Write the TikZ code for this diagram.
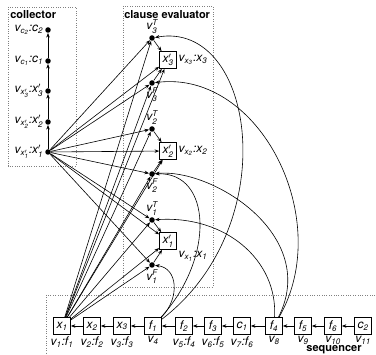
\documentclass[tikz,border=0pt]{standalone}
\usepackage{amsmath}
\usepackage{fontspec}
\setmainfont{TeX Gyre Heros}
\usetikzlibrary{arrows.meta}
\newcommand{\ix}[2]{$\textit{#1}_{\textit{#2}}$}
\newcommand{\xp}[1]{$\textit{x}'_{\textit{#1}}$}
\newcommand{\vx}[1]{$\textit{v}_{\textit{x}_{\textit{#1}}}$}
\newcommand{\vxp}[1]{$\textit{v}_{\textit{x}'_{\textit{#1}}}$}
\newcommand{\vc}[1]{$\textit{v}_{\textit{c}_{\textit{#1}}}$}
\newcommand{\lit}[2]{$\textit{v}^{\textit{#2}}_{\textit{#1}}$}
\newcommand{\cl}{\textit{:}}
\newcommand{\seq}[2]{\draw[->] (#1) -- (#2)}
\newcommand{\curl}[4]{\draw[->] (#1) .. controls (#2) and (#3) .. (#4)}

\begin{document}
\begin{tikzpicture}[x=1pt,y=-1pt,line width=0.6pt,
	>={Stealth[length=4.5pt,width=3.5pt]},
	every node/.style={font=\fontsize{12}{14}\selectfont},
	every label/.style={inner sep=1.5pt},
	box/.style={draw,line width=0.8pt,minimum size=17pt,inner sep=1pt},
	dot/.style={circle,fill,inner sep=0pt,minimum size=5.5pt},
	frame/.style={gray,line width=0.5pt,dash pattern=on 0.8pt off 1.6pt},
	title/.style={font=\fontsize{11}{13}\selectfont\bfseries,inner sep=0pt}]
\useasboundingbox (0,0) rectangle (376,355);
\clip (0,0) rectangle (376,355);
%Frames
	\draw[frame] (8,7) rectangle (76,166);
	\draw[frame] (123,6) rectangle (213,287);
	\draw[frame] (46,295) rectangle (390,370);
	\node[title,anchor=north west] at (10,10) {collector};
	\node[title,anchor=north west] at (124,10) {clause evaluator};
	\node[title] at (334,350) {sequencer};
%The collector
	\node[dot,label=left:{\vc{2}\cl\ix{c}{2}}] (vc2) at (48,30) {};
	\node[dot,label=left:{\vc{1}\cl\ix{c}{1}}] (vc1) at (48,61) {};
	\node[dot,label=left:{\vxp{3}\cl\xp{3}}] (vx3) at (48,91) {};
	\node[dot,label=left:{\vxp{2}\cl\xp{2}}] (vx2) at (48,122) {};
	\node[dot,label=left:{\vxp{1}\cl\xp{1}}] (vx1) at (48,152) {};
	\seq{vx1}{vx2};
	\seq{vx2}{vx3};
	\seq{vx3}{vc1};
	\seq{vc1}{vc2};
%The clause evaluator
	\node[dot,label=above:{\lit{3}{T}}] (v3T) at (152,38) {};
	\node[box,label=right:{\vx{3}\cl\ix{x}{3}}] (xp3) at (168,60) {\xp{3}};
	\node[dot,label=below:{\lit{3}{F}}] (v3F) at (152,83) {};
	\node[dot,label=above:{\lit{2}{T}}] (v2T) at (152,129) {};
	\node[box,label=right:{\vx{2}\cl\ix{x}{2}}] (xp2) at (168,151) {\xp{2}};
	\node[dot,label=below:{\lit{2}{F}}] (v2F) at (152,174) {};
	\node[dot,label=above:{\lit{1}{T}}] (v1T) at (152,220) {};
	\node[box,label=below right:{\vx{1}\cl\ix{x}{1}}] (xp1) at (168,241) {\xp{1}};
	\node[dot,label=below:{\lit{1}{F}}] (v1F) at (152,265) {};
	\seq{v3T}{xp3};
	\seq{v3F}{xp3};
	\seq{v2T}{xp2};
	\seq{v2F}{xp2};
	\seq{v1T}{xp1};
	\seq{v1F}{xp1};
%The sequencer
	\node[box,label=below:{\ix{v}{1}\cl\ix{f}{1}}] (x1) at (62,326) {\ix{x}{1}};
	\node[box,label=below:{\ix{v}{2}\cl\ix{f}{2}}] (x2) at (92,326) {\ix{x}{2}};
	\node[box,label=below:{\ix{v}{3}\cl\ix{f}{3}}] (x3) at (122,326) {\ix{x}{3}};
	\node[box,label=below:{\ix{v}{4}}] (f1) at (153,326) {\ix{f}{1}};
	\node[box,label=below:{\ix{v}{5}\cl\ix{f}{4}}] (f2) at (184,326) {\ix{f}{2}};
	\node[box,label=below:{\ix{v}{6}\cl\ix{f}{5}}] (f3) at (213,326) {\ix{f}{3}};
	\node[box,label=below:{\ix{v}{7}\cl\ix{f}{6}}] (c1) at (242,326) {\ix{c}{1}};
	\node[box,label=below:{\ix{v}{8}}] (f4) at (274,326) {\ix{f}{4}};
	\node[box,label=below:{\ix{v}{9}}] (f5) at (303,326) {\ix{f}{5}};
	\node[box,label=below:{\ix{v}{10}}] (f6) at (333,326) {\ix{f}{6}};
	\node[box,label=below:{\ix{v}{11}}] (c2) at (363,326) {\ix{c}{2}};
	\seq{x2}{x1};
	\seq{x3}{x2};
	\seq{f1}{x3};
	\seq{f2}{f1};
	\seq{f3}{f2};
	\seq{c1}{f3};
	\seq{f4}{c1};
	\seq{f5}{f4};
	\seq{f6}{f5};
	\seq{c2}{f6};
%From the sequencer
	\seq{x1}{v3T};
	\seq{x1}{xp3};
	\seq{x1}{v3F};
	\seq{x1}{v2T};
	\seq{x1}{xp2};
	\seq{x1}{v2F};
	\seq{x1}{v1T};
	\seq{x1}{xp1};
	\seq{x1}{v1F};
%From the collector
	\seq{vx1}{v3T};
	\seq{vx1}{xp3};
	\seq{vx1}{v3F};
	\seq{vx1}{v2T};
	\seq{vx1}{xp2};
	\seq{vx1}{v2F};
	\seq{vx1}{v1T};
	\seq{vx1}{xp1};
	\seq{vx1}{v1F};
%The clauses
	\curl{f1}{180,298}{178,268}{v1F};
	\curl{f1}{285,225}{255,20}{v3T};
	\curl{f1}{215,258}{212,172}{v2F};
	\curl{f4}{335,220}{260,70}{v3F};
	\curl{f4}{320,235}{212,168}{v2F};
	\curl{f4}{278,260}{225,215}{v1T};
\end{tikzpicture}
\end{document}
